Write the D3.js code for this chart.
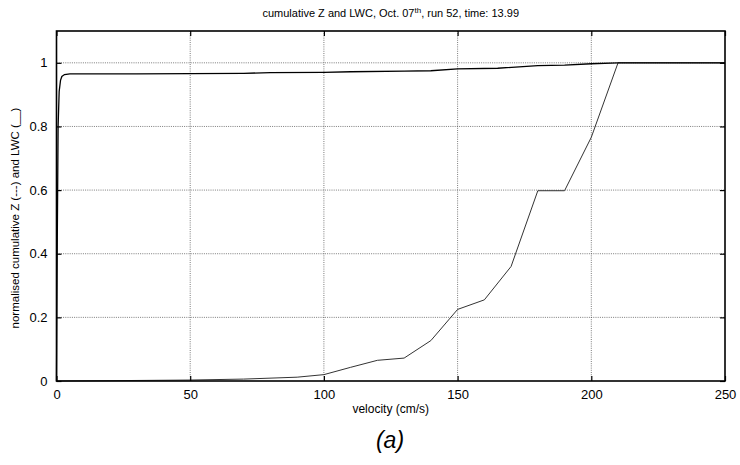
<!DOCTYPE html>
<html>
<head>
<meta charset="utf-8">
<script src="https://cdn.jsdelivr.net/npm/d3@7"></script>
<style>
  body { margin: 0; background: #fff; }
  svg { display: block; font-family: "Liberation Sans", Arial, sans-serif; }
</style>
</head>
<body>
<svg id="chart" width="740" height="465"></svg>
<script>
// ---- data ----
const xTicks = [0, 50, 100, 150, 200, 250];
const yTicks = [0, 0.2, 0.4, 0.6, 0.8, 1];

// cumulative Z curve
const zVelocity = [0, 0.3, 0.6, 1, 1.5, 2, 3, 5, 30, 50, 70, 80, 100, 110, 130, 140, 150, 165, 180, 190, 200, 210, 250];
const zValue    = [0, 0.45, 0.8, 0.91, 0.945, 0.957, 0.963, 0.965, 0.965, 0.966, 0.967, 0.969, 0.97, 0.972, 0.974, 0.975, 0.981, 0.983, 0.991, 0.993, 0.997, 1.0, 1.0];

// cumulative LWC curve
const lwcVelocity = [0, 20, 50, 70, 90, 100, 110, 120, 130, 140, 150, 160, 170, 180, 190, 200, 210, 250];
const lwcValue    = [0, 0.001, 0.003, 0.006, 0.012, 0.02, 0.043, 0.065, 0.072, 0.127, 0.225, 0.255, 0.36, 0.598, 0.598, 0.766, 1.0, 1.0];

// ---- layout ----
const svg = d3.select("#chart");
const L = 56.5, R = 725, T = 31, B = 381;
const x = d3.scaleLinear().domain([0, 250]).range([L, R]);
const y = d3.scaleLinear().domain([0, 1.1]).range([B, T]);

// grid
const grid = svg.append("g");
grid.selectAll(".gx").data(xTicks.slice(1, -1)).enter().append("line")
  .attr("x1", d => x(d)).attr("x2", d => x(d)).attr("y1", T).attr("y2", B)
  .attr("stroke", "#444").attr("stroke-width", 0.7).attr("stroke-dasharray", "1,1.2");
grid.selectAll(".gy").data(yTicks.slice(1)).enter().append("line")
  .attr("x1", L).attr("x2", R).attr("y1", d => y(d)).attr("y2", d => y(d))
  .attr("stroke", "#444").attr("stroke-width", 0.7).attr("stroke-dasharray", "1,1.2");

// lines
const lz = d3.line().x((d, i) => x(zVelocity[i])).y(d => y(d));
const ll = d3.line().x((d, i) => x(lwcVelocity[i])).y(d => y(d));
svg.append("path").attr("d", ll(lwcValue)).attr("fill", "none")
  .attr("stroke", "#333").attr("stroke-width", 1);
svg.append("path").attr("d", lz(zValue)).attr("fill", "none")
  .attr("stroke", "#000").attr("stroke-width", 1.3);

// axes (ticks inside, on all four sides)
const tickLen = 5;
const axB = svg.append("g").attr("transform", `translate(0,${B})`)
  .call(d3.axisBottom(x).tickValues(xTicks).tickSize(-tickLen).tickPadding(9).tickFormat(d3.format("d")));
const axT = svg.append("g").attr("transform", `translate(0,${T})`)
  .call(d3.axisTop(x).tickValues(xTicks).tickSize(-tickLen).tickFormat(""));
const axL = svg.append("g").attr("transform", `translate(${L},0)`)
  .call(d3.axisLeft(y).tickValues(yTicks).tickSize(-tickLen).tickPadding(9).tickFormat(d => d === 0 || d === 1 ? d3.format("d")(d) : d3.format(".1f")(d)));
const axR = svg.append("g").attr("transform", `translate(${R},0)`)
  .call(d3.axisRight(y).tickValues(yTicks).tickSize(-tickLen).tickFormat(""));
[axB, axT, axL, axR].forEach(a => {
  a.select(".domain").remove();
  a.selectAll(".tick line").attr("stroke", "#000").attr("stroke-width", 1.2);
  a.selectAll("text").attr("font-size", 13).attr("fill", "#000")
    .attr("font-family", "'Liberation Sans', Arial, sans-serif");
});

// box
svg.append("rect").attr("x", L).attr("y", T).attr("width", R - L).attr("height", B - T)
  .attr("fill", "none").attr("stroke", "#000").attr("stroke-width", 1.6);

// title
const title = svg.append("text").attr("x", (L + R) / 2).attr("y", 17)
  .attr("text-anchor", "middle").attr("font-size", 11).attr("fill", "#000");
title.append("tspan").text("cumulative Z and LWC, Oct. 07");
title.append("tspan").attr("dy", -4).attr("font-size", 8).text("th");
title.append("tspan").attr("dy", 4).text(", run 52, time: 13.99");

// axis labels
svg.append("text").attr("x", (L + R) / 2).attr("y", 413).attr("text-anchor", "middle")
  .attr("font-size", 12).attr("fill", "#000").text("velocity (cm/s)");
svg.append("text").attr("transform", `translate(19,${(T + B) / 2 + 12}) rotate(-90)`)
  .attr("text-anchor", "middle").attr("font-size", 11.5).attr("fill", "#000")
  .text("normalised cumulative Z (---) and LWC (__)");

// caption
svg.append("text").attr("x", 390).attr("y", 448).attr("text-anchor", "middle")
  .attr("font-size", 23).attr("font-style", "italic").attr("fill", "#000").text("(a)");
</script>
</body>
</html>
